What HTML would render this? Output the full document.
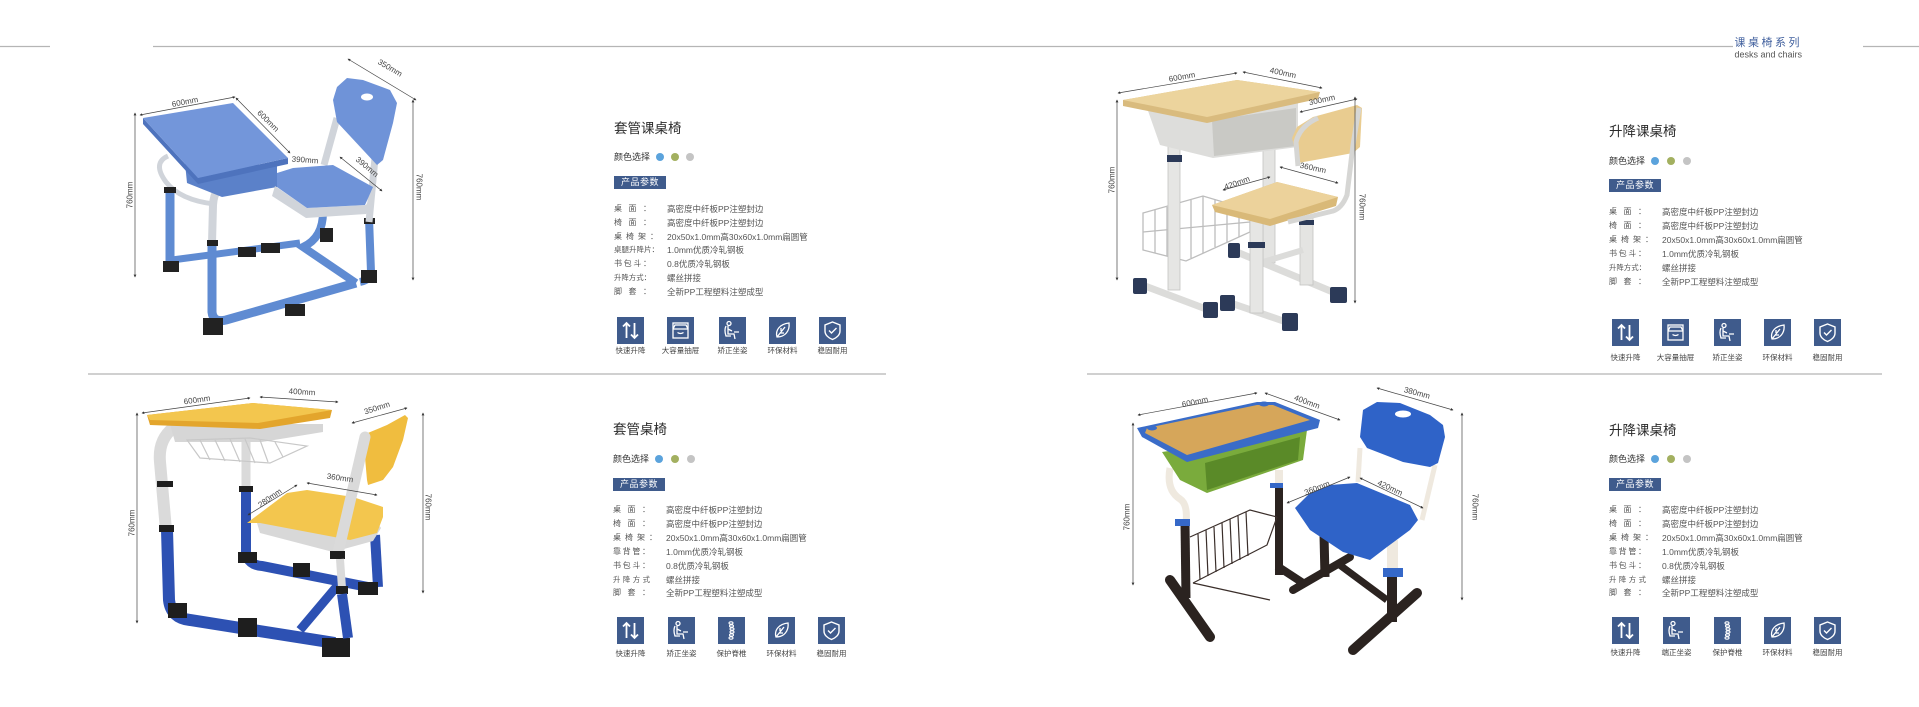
<!DOCTYPE html>
<html><head><meta charset="utf-8">
<style>
*{margin:0;padding:0;box-sizing:border-box}
html,body{width:1919px;height:707px;background:#fff;overflow:hidden;font-family:"Liberation Sans","Noto Sans CJK SC",sans-serif;position:relative}
.a{position:absolute;white-space:nowrap}
.t{font-size:13.5px;line-height:14px;color:#2a2a2a}
.c{font-size:9px;line-height:10px;color:#333}
.dot{position:absolute;width:8px;height:8px;border-radius:50%}
.b1{background:#5ba3dc}.b2{background:#a3b060}.b3{background:#c4c4c4}
.box{position:absolute;background:#3f5b8c;color:#fff;font-size:9px;line-height:13px;text-align:center;height:13px;width:52px;letter-spacing:0.5px}
.r{position:absolute;height:14px;line-height:14px;font-size:8.5px;color:#555;white-space:nowrap}
.l{position:absolute;left:0;top:0;font-size:8px;text-align:justify;text-align-last:justify;width:37px}
.v{position:absolute;left:53px;top:0}
.ic{position:absolute;width:27px;height:27px;background:#3f5b8c}
.ic svg{display:block}
.il{position:absolute;font-size:7.5px;line-height:9px;color:#444;text-align:center;width:50px;white-space:nowrap}
svg text.d{font-family:"Liberation Sans",sans-serif;font-size:8px;fill:#444;text-anchor:middle;dominant-baseline:central}
</style></head><body>

<svg class="a" style="left:0;top:0" width="1919" height="707" viewBox="0 0 1919 707">
<defs><marker id="m" viewBox="0 0 6 6" refX="5" refY="3" markerWidth="4" markerHeight="4" orient="auto-start-reverse"><path d="M0 0L6 3 0 6z" fill="#333"/></marker></defs>
<!-- page lines -->
<g stroke="#b5b5b5" stroke-width="1.2">
<line x1="0" y1="46.5" x2="50" y2="46.5"/>
<line x1="153" y1="46.5" x2="1733" y2="46.5"/>
<line x1="1863" y1="46.5" x2="1919" y2="46.5"/>
<line x1="88" y1="374" x2="886" y2="374"/>
<line x1="1087" y1="374" x2="1882" y2="374"/>
</g>
<text x="1802" y="43" style="font-family:'Liberation Sans','Noto Sans CJK SC',sans-serif;font-size:11px;fill:#41609e;letter-spacing:2.5px;text-anchor:end;dominant-baseline:central">课桌椅系列</text>
<text x="1802" y="54.5" style="font-family:'Liberation Sans',sans-serif;font-size:9px;fill:#555;text-anchor:end;dominant-baseline:central">desks and chairs</text>

<!-- ===== PRODUCT 1 ===== -->
<g>
<line x1="170" y1="190" x2="170" y2="266" stroke="#5f8bd2" stroke-width="9"/>
<path d="M172 260 L300 243" stroke="#5f8bd2" stroke-width="7" fill="none"/>
<path d="M323 212 Q323 238 303 247 L356 283" stroke="#5f8bd2" stroke-width="8" fill="none"/>
<path d="M369 218 L371 272 Q370 280 360 282" stroke="#5f8bd2" stroke-width="8" fill="none"/>
<path d="M212 240 L212 312 Q213 323 226 320 L356 283" stroke="#5f8bd2" stroke-width="9" fill="none"/>
<path d="M231 178 Q214 186 213 205 L212 243" stroke="#d0d4da" stroke-width="8" fill="none"/>
<path d="M168 156 Q152 163 166 182 Q180 200 214 204" stroke="#d0d4da" stroke-width="5" fill="none"/>
<g fill="#222">
<rect x="164" y="187" width="12" height="6"/>
<rect x="207" y="240" width="11" height="6"/>
<rect x="163" y="261" width="16" height="11"/>
<rect x="203" y="318" width="20" height="17"/>
<rect x="238" y="247" width="18" height="10"/>
<rect x="261" y="243" width="19" height="10"/>
<rect x="285" y="304" width="20" height="12"/>
<rect x="320" y="228" width="13" height="14"/>
<rect x="361" y="270" width="16" height="13"/>
<rect x="364" y="218" width="11" height="6"/>
</g>
<polygon points="185,163 277,165 277,187 222,197 187,183" fill="#5b81c9"/>
<polygon points="143,118 198,178 288,158 288,164 198,184 143,124" fill="#4e73bd"/>
<polygon points="143,118 233,103 288,158 198,178" fill="#7396da"/>
<line x1="337" y1="118" x2="324" y2="165" stroke="#d0d4da" stroke-width="7"/>
<line x1="375" y1="158" x2="369" y2="222" stroke="#d0d4da" stroke-width="7"/>
<polygon points="275,186 307,208 366,205 374,190 374,200 366,214 306,218 272,196" fill="#d0d4da"/>
<polygon points="277,173 293,168 333,165 373,187 365,205 307,208 277,187" fill="#6f93d8"/>
<polygon points="337,87 347,78 363,80 390,90 397,103 393,123 383,160 377,165 337,122 333,100" fill="#6f93d8"/>
<ellipse cx="367" cy="97" rx="6" ry="3.5" fill="#fff"/>
<g stroke="#444" stroke-width="0.7" fill="none" marker-start="url(#m)" marker-end="url(#m)">
<line x1="140" y1="115" x2="235" y2="97"/>
<line x1="236" y1="98" x2="290" y2="153"/>
<line x1="348" y1="59" x2="416" y2="100"/>
<line x1="340" y1="157" x2="382" y2="191"/>
<line x1="135" y1="113" x2="135" y2="277"/>
<line x1="413" y1="100" x2="413" y2="280"/>
</g>
<text class="d" transform="translate(185,102) rotate(-11)">600mm</text>
<text class="d" transform="translate(268,121) rotate(45)">600mm</text>
<text class="d" transform="translate(305,160) rotate(4)">390mm</text>
<text class="d" transform="translate(390,68) rotate(30)">350mm</text>
<text class="d" transform="translate(367,167) rotate(40)">390mm</text>
<text class="d" transform="translate(130,195) rotate(-90)">760mm</text>
<text class="d" transform="translate(419,187) rotate(90)">760mm</text>
</g>

<!-- ===== PRODUCT 2 ===== -->
<g>
<rect x="1263" y="145" width="12" height="118" fill="#e4e4e2" stroke="#c4c4c2" stroke-width="0.8"/>
<g stroke="#bdbdbd" stroke-width="1.3" fill="none">
<polygon points="1143,213 1203,196 1250,210 1250,232 1186,261 1143,250"/>
<line x1="1155" y1="210" x2="1155" y2="253"/><line x1="1167" y1="207" x2="1167" y2="256"/>
<line x1="1179" y1="203" x2="1179" y2="259"/><line x1="1191" y1="200" x2="1191" y2="258"/>
<line x1="1203" y1="196" x2="1203" y2="253"/><line x1="1215" y1="200" x2="1215" y2="247"/>
<line x1="1227" y1="203" x2="1227" y2="242"/><line x1="1239" y1="207" x2="1239" y2="237"/>
<line x1="1143" y1="232" x2="1250" y2="222"/>
</g>
<rect x="1168" y="130" width="12" height="160" fill="#e6e6e4" stroke="#c4c4c2" stroke-width="0.8"/>
<line x1="1137" y1="283" x2="1214" y2="312" stroke="#dcdcda" stroke-width="7"/>
<rect x="1167" y="155" width="15" height="7" fill="#2c3a58"/>
<polygon points="1147,108 1298,97 1298,147 1213,158 1160,145" fill="#dddddb"/>
<polygon points="1212,120 1296,108 1296,146 1214,156" fill="#c9c9c5"/>
<polygon points="1123,100 1237,80 1320,92 1318,99 1207,123 1123,106" fill="#d9bb7e"/>
<polygon points="1123,100 1237,80 1320,92 1207,117" fill="#ecd49d"/>
<!-- chair -->
<line x1="1232" y1="250" x2="1340" y2="295" stroke="#dcdcda" stroke-width="7"/>
<line x1="1222" y1="300" x2="1295" y2="325" stroke="#dcdcda" stroke-width="7"/>
<rect x="1300" y="217" width="13" height="68" fill="#e4e4e2" stroke="#c4c4c2" stroke-width="0.8"/>
<line x1="1263" y1="262" x2="1303" y2="250" stroke="#dcdcda" stroke-width="6"/>
<rect x="1250" y="207" width="13" height="106" fill="#e6e6e4" stroke="#c4c4c2" stroke-width="0.8"/>
<rect x="1248" y="242" width="17" height="6" fill="#2c3a58"/>
<rect x="1299" y="220" width="15" height="5" fill="#2c3a58"/>
<g fill="#2c3a58">
<rect x="1133" y="278" width="14" height="16" rx="2"/>
<rect x="1203" y="302" width="15" height="16" rx="2"/>
<rect x="1220" y="295" width="15" height="16" rx="2"/>
<rect x="1282" y="313" width="16" height="18" rx="2"/>
<rect x="1228" y="243" width="12" height="15" rx="2"/>
<rect x="1330" y="287" width="17" height="16" rx="2"/>
</g>
<polygon points="1212,205 1277,182 1338,197 1336,206 1270,226 1215,212" fill="#d9b978"/>
<polygon points="1212,205 1277,182 1338,197 1270,219" fill="#ecd29b"/>
<polygon points="1292,138 1297,127 1313,117 1357,105 1362,108 1360,147 1353,153 1315,160 1298,163" fill="#e9cc90"/>
<path d="M1359 108 L1353 145 L1347 195 Q1342 208 1333 211 L1288 222" stroke="#d6d6d4" stroke-width="5" fill="none"/>
<path d="M1298 166 L1296 142 Q1300 126 1318 118" stroke="#d6d6d4" stroke-width="5" fill="none"/>
<g stroke="#444" stroke-width="0.7" fill="none" marker-start="url(#m)" marker-end="url(#m)">
<line x1="1118" y1="93" x2="1237" y2="73"/>
<line x1="1243" y1="72" x2="1322" y2="88"/>
<line x1="1300" y1="112" x2="1357" y2="99"/>
<line x1="1117" y1="100" x2="1117" y2="280"/>
<line x1="1355" y1="97" x2="1355" y2="303"/>
<line x1="1280" y1="167" x2="1338" y2="183"/>
<line x1="1223" y1="190" x2="1270" y2="177"/>
</g>
<text class="d" transform="translate(1182,77) rotate(-10)">600mm</text>
<text class="d" transform="translate(1283,73) rotate(12)">400mm</text>
<text class="d" transform="translate(1322,100) rotate(-12)">300mm</text>
<text class="d" transform="translate(1112,180) rotate(-90)">760mm</text>
<text class="d" transform="translate(1362,207) rotate(90)">760mm</text>
<text class="d" transform="translate(1313,168) rotate(12)">360mm</text>
<text class="d" transform="translate(1237,183) rotate(-20)">420mm</text>
</g>

<!-- ===== PRODUCT 3 ===== -->
<g>
<path d="M246 490 L246 553 Q248 565 262 566 L373 588" stroke="#2d51b3" stroke-width="10" fill="none"/>
<line x1="246" y1="440" x2="246" y2="490" stroke="#dadada" stroke-width="9"/>
<path d="M375 535 L378 587" stroke="#2d51b3" stroke-width="10"/>
<line x1="300" y1="630" x2="338" y2="585" stroke="#2d51b3" stroke-width="9"/>
<path d="M173 428 Q158 440 160 462 L166 530" stroke="#dadada" stroke-width="12" fill="none"/>
<path d="M167 530 L169 600 Q171 618 190 620 L335 643" stroke="#2d51b3" stroke-width="12" fill="none"/>
<g fill="#1e1e1e">
<rect x="157" y="481" width="16" height="6"/>
<rect x="159" y="525" width="15" height="7"/>
<rect x="239" y="486" width="14" height="6"/>
<rect x="168" y="603" width="19" height="15"/>
<rect x="238" y="552" width="19" height="11"/>
<rect x="238" y="618" width="19" height="19"/>
<rect x="293" y="563" width="17" height="14"/>
<rect x="322" y="638" width="28" height="19"/>
<rect x="358" y="582" width="20" height="13"/>
</g>
<polygon points="170,424 323,424 323,432 262,442 175,442" fill="#d6d6d6"/>
<g stroke="#c8c8c8" stroke-width="1.2" fill="none">
<polygon points="187,440 250,438 307,446 270,463 200,458"/>
<line x1="200" y1="440" x2="210" y2="460"/><line x1="215" y1="440" x2="225" y2="461"/>
<line x1="230" y1="439" x2="240" y2="462"/><line x1="245" y1="439" x2="255" y2="463"/>
<line x1="260" y1="440" x2="268" y2="462"/><line x1="275" y1="442" x2="283" y2="457"/>
</g>
<polygon points="147,415 253,403 332,410 330,418 260,429 150,425" fill="#e3a52c"/>
<polygon points="147,415 253,403 332,410 258,423 150,420" fill="#f3c64e"/>
<!-- chair -->
<polygon points="363,435 387,425 405,415 408,418 403,440 393,467 383,480 368,485 367,480" fill="#f0bd3f"/>
<polygon points="257,523 260,533 333,552 373,541 381,528 375,520" fill="#d8d8d8"/>
<polygon points="247,523 287,493 307,490 353,497 383,507 383,517 377,533 350,540 260,523" fill="#f3c64e"/>
<path d="M365 437 L338 553" stroke="#dadada" stroke-width="11" fill="none" stroke-linecap="round"/>
<rect x="330" y="551" width="15" height="8" fill="#1e1e1e"/>
<line x1="340" y1="559" x2="342" y2="588" stroke="#dadada" stroke-width="8"/>
<rect x="336" y="586" width="12" height="8" fill="#1e1e1e"/>
<path d="M342 594 L348 638" stroke="#2d51b3" stroke-width="10"/>
<g stroke="#444" stroke-width="0.7" fill="none" marker-start="url(#m)" marker-end="url(#m)">
<line x1="142" y1="413" x2="250" y2="398"/>
<line x1="260" y1="397" x2="338" y2="402"/>
<line x1="352" y1="423" x2="407" y2="408"/>
<line x1="137" y1="413" x2="137" y2="623"/>
<line x1="423" y1="413" x2="423" y2="593"/>
<line x1="307" y1="483" x2="377" y2="495"/>
<line x1="248" y1="515" x2="297" y2="485"/>
</g>
<text class="d" transform="translate(197,400) rotate(-8)">600mm</text>
<text class="d" transform="translate(302,392) rotate(3)">400mm</text>
<text class="d" transform="translate(377,408) rotate(-18)">350mm</text>
<text class="d" transform="translate(132,523) rotate(-90)">760mm</text>
<text class="d" transform="translate(428,507) rotate(90)">760mm</text>
<text class="d" transform="translate(340,478) rotate(8)">360mm</text>
<text class="d" transform="translate(270,498) rotate(-35)">280mm</text>
</g>

<!-- ===== PRODUCT 4 ===== -->
<g>
<line x1="1279" y1="486" x2="1279" y2="575" stroke="#2b2320" stroke-width="8"/>
<line x1="1277" y1="566" x2="1303" y2="583" stroke="#2b2320" stroke-width="8"/>
<rect x="1275" y="470" width="8" height="15" fill="#efe9df"/>
<rect x="1270" y="483" width="13" height="5" fill="#3568c8"/>
<g stroke="#3a2e2a" stroke-width="1.2" fill="none">
<polyline points="1190,537 1250,510 1277,517"/>
<polyline points="1193,583 1267,545 1277,517"/>
<line x1="1198" y1="534" x2="1200" y2="580"/><line x1="1206" y1="530" x2="1208" y2="576"/>
<line x1="1214" y1="527" x2="1216" y2="572"/><line x1="1222" y1="523" x2="1224" y2="568"/>
<line x1="1230" y1="519" x2="1232" y2="564"/><line x1="1238" y1="516" x2="1240" y2="560"/>
<line x1="1246" y1="512" x2="1248" y2="556"/>
<line x1="1193" y1="583" x2="1270" y2="600"/>
</g>
<line x1="1185" y1="523" x2="1186" y2="598" stroke="#2b2320" stroke-width="9"/>
<line x1="1170" y1="580" x2="1210" y2="637" stroke="#2b2320" stroke-width="10" stroke-linecap="round"/>
<path d="M1170 468 Q1166 490 1180 499 Q1188 504 1186 523" stroke="#efe9df" stroke-width="7" fill="none"/>
<rect x="1175" y="519" width="15" height="7" fill="#3568c8"/>
<polygon points="1162,452 1307,430 1303,460 1207,493 1180,480" fill="#7aab3c"/>
<polygon points="1205,463 1300,437 1298,460 1207,490" fill="#5a8a28"/>
<polygon points="1137,428 1257,402 1275,402 1320,420 1318,428 1187,462 1142,437" fill="#3a6cc8"/>
<polygon points="1147,428 1257,405 1273,405 1310,420 1187,455 1145,433" fill="#d6a65a"/>
<ellipse cx="1152" cy="428" rx="5" ry="2.5" fill="#3a6cc8"/>
<ellipse cx="1264" cy="404" rx="5" ry="2.5" fill="#3a6cc8"/>
<!-- chair -->
<line x1="1293" y1="590" x2="1350" y2="557" stroke="#2b2320" stroke-width="8" stroke-linecap="round"/>
<line x1="1324" y1="535" x2="1325" y2="577" stroke="#2b2320" stroke-width="9"/>
<line x1="1337" y1="563" x2="1387" y2="600" stroke="#2b2320" stroke-width="7"/>
<line x1="1392" y1="577" x2="1392" y2="622" stroke="#2b2320" stroke-width="10"/>
<line x1="1353" y1="650" x2="1417" y2="593" stroke="#2b2320" stroke-width="10" stroke-linecap="round"/>
<rect x="1387" y="540" width="11" height="30" fill="#efe9df"/>
<rect x="1383" y="568" width="20" height="9" fill="#3568c8"/>
<line x1="1360" y1="448" x2="1358" y2="482" stroke="#efe9df" stroke-width="5"/>
<line x1="1435" y1="465" x2="1422" y2="520" stroke="#efe9df" stroke-width="5"/>
<polygon points="1363,410 1377,402 1400,403 1430,415 1443,425 1445,437 1438,463 1430,467 1403,462 1367,448 1360,437" fill="#2f63c8"/>
<ellipse cx="1403" cy="414" rx="8" ry="3.5" fill="#fff"/>
<polygon points="1295,508 1310,493 1330,485 1357,483 1410,505 1418,520 1410,530 1387,547 1370,560 1343,552 1310,530" fill="#2f63c8"/>
<g stroke="#444" stroke-width="0.7" fill="none" marker-start="url(#m)" marker-end="url(#m)">
<line x1="1138" y1="415" x2="1257" y2="393"/>
<line x1="1265" y1="393" x2="1340" y2="420"/>
<line x1="1377" y1="388" x2="1453" y2="410"/>
<line x1="1133" y1="423" x2="1133" y2="585"/>
<line x1="1462" y1="413" x2="1462" y2="600"/>
<line x1="1287" y1="503" x2="1350" y2="477"/>
<line x1="1360" y1="478" x2="1423" y2="508"/>
</g>
<text class="d" transform="translate(1195,402) rotate(-12)">600mm</text>
<text class="d" transform="translate(1307,402) rotate(20)">400mm</text>
<text class="d" transform="translate(1417,393) rotate(15)">380mm</text>
<text class="d" transform="translate(1127,517) rotate(-90)">760mm</text>
<text class="d" transform="translate(1475,507) rotate(90)">760mm</text>
<text class="d" transform="translate(1317,488) rotate(-22)">360mm</text>
<text class="d" transform="translate(1390,488) rotate(25)">420mm</text>
</g>
</svg>

<!-- ===== TEXT BLOCK 1 ===== -->
<div class="a t" style="left:614px;top:122px">套管课桌椅</div>
<div class="a c" style="left:614px;top:152px">颜色选择</div>
<div class="dot b1" style="left:656px;top:153px"></div><div class="dot b2" style="left:671px;top:153px"></div><div class="dot b3" style="left:686px;top:153px"></div>
<div class="box" style="left:614px;top:176px">产品参数</div>
<div class="r" style="left:614px;top:202px"><span class="l">桌面：</span><span class="v">高密度中纤板PP注塑封边</span></div>
<div class="r" style="left:614px;top:215.8px"><span class="l">椅面：</span><span class="v">高密度中纤板PP注塑封边</span></div>
<div class="r" style="left:614px;top:229.6px"><span class="l" style="width:44px">桌椅架：</span><span class="v">20x50x1.0mm高30x60x1.0mm扁圆管</span></div>
<div class="r" style="left:614px;top:243.4px"><span class="l" style="width:45px;font-size:7.5px">桌腿升降片：</span><span class="v">1.0mm优质冷轧钢板</span></div>
<div class="r" style="left:614px;top:257.2px"><span class="l">书包斗：</span><span class="v">0.8优质冷轧钢板</span></div>
<div class="r" style="left:614px;top:271px"><span class="l" style="font-size:7.4px">升降方式：</span><span class="v">螺丝拼接</span></div>
<div class="r" style="left:614px;top:284.8px"><span class="l">脚套：</span><span class="v">全新PP工程塑料注塑成型</span></div>

<!-- ===== TEXT BLOCK 2 ===== -->
<div class="a t" style="left:1609px;top:125px">升降课桌椅</div>
<div class="a c" style="left:1609px;top:156px">颜色选择</div>
<div class="dot b1" style="left:1651px;top:157px"></div><div class="dot b2" style="left:1667px;top:157px"></div><div class="dot b3" style="left:1683px;top:157px"></div>
<div class="box" style="left:1609px;top:179px">产品参数</div>
<div class="r" style="left:1609px;top:205px"><span class="l">桌面：</span><span class="v">高密度中纤板PP注塑封边</span></div>
<div class="r" style="left:1609px;top:218.9px"><span class="l">椅面：</span><span class="v">高密度中纤板PP注塑封边</span></div>
<div class="r" style="left:1609px;top:232.8px"><span class="l" style="width:44px">桌椅架：</span><span class="v">20x50x1.0mm高30x60x1.0mm扁圆管</span></div>
<div class="r" style="left:1609px;top:246.7px"><span class="l">书包斗：</span><span class="v">1.0mm优质冷轧钢板</span></div>
<div class="r" style="left:1609px;top:260.6px"><span class="l" style="font-size:7.4px">升降方式：</span><span class="v">螺丝拼接</span></div>
<div class="r" style="left:1609px;top:274.5px"><span class="l">脚套：</span><span class="v">全新PP工程塑料注塑成型</span></div>

<!-- ===== TEXT BLOCK 3 ===== -->
<div class="a t" style="left:613px;top:422.5px">套管桌椅</div>
<div class="a c" style="left:613px;top:454px">颜色选择</div>
<div class="dot b1" style="left:655px;top:455px"></div><div class="dot b2" style="left:671px;top:455px"></div><div class="dot b3" style="left:687px;top:455px"></div>
<div class="box" style="left:613px;top:478px">产品参数</div>
<div class="r" style="left:613px;top:503px"><span class="l">桌面：</span><span class="v">高密度中纤板PP注塑封边</span></div>
<div class="r" style="left:613px;top:516.9px"><span class="l">椅面：</span><span class="v">高密度中纤板PP注塑封边</span></div>
<div class="r" style="left:613px;top:530.8px"><span class="l" style="width:44px">桌椅架：</span><span class="v">20x50x1.0mm高30x60x1.0mm扁圆管</span></div>
<div class="r" style="left:613px;top:544.7px"><span class="l">靠背管：</span><span class="v">1.0mm优质冷轧钢板</span></div>
<div class="r" style="left:613px;top:558.6px"><span class="l">书包斗：</span><span class="v">0.8优质冷轧钢板</span></div>
<div class="r" style="left:613px;top:572.5px"><span class="l" style="font-size:7.4px">升降方式</span><span class="v">螺丝拼接</span></div>
<div class="r" style="left:613px;top:586.4px"><span class="l">脚套：</span><span class="v">全新PP工程塑料注塑成型</span></div>

<!-- ===== TEXT BLOCK 4 ===== -->
<div class="a t" style="left:1609px;top:423.5px">升降课桌椅</div>
<div class="a c" style="left:1609px;top:454px">颜色选择</div>
<div class="dot b1" style="left:1651px;top:455px"></div><div class="dot b2" style="left:1667px;top:455px"></div><div class="dot b3" style="left:1683px;top:455px"></div>
<div class="box" style="left:1609px;top:478px">产品参数</div>
<div class="r" style="left:1609px;top:503px"><span class="l">桌面：</span><span class="v">高密度中纤板PP注塑封边</span></div>
<div class="r" style="left:1609px;top:516.9px"><span class="l">椅面：</span><span class="v">高密度中纤板PP注塑封边</span></div>
<div class="r" style="left:1609px;top:530.8px"><span class="l" style="width:44px">桌椅架：</span><span class="v">20x50x1.0mm高30x60x1.0mm扁圆管</span></div>
<div class="r" style="left:1609px;top:544.7px"><span class="l">靠背管：</span><span class="v">1.0mm优质冷轧钢板</span></div>
<div class="r" style="left:1609px;top:558.6px"><span class="l">书包斗：</span><span class="v">0.8优质冷轧钢板</span></div>
<div class="r" style="left:1609px;top:572.5px"><span class="l" style="font-size:7.4px">升降方式</span><span class="v">螺丝拼接</span></div>
<div class="r" style="left:1609px;top:586.4px"><span class="l">脚套：</span><span class="v">全新PP工程塑料注塑成型</span></div>

<!-- ===== ICONS ===== -->
<!-- block 1 -->
<div class="ic" style="left:617px;top:317px"><svg width="27" height="27" viewBox="0 0 27 27"><path d="M9.5 21V6M6 9.5L9.5 6 13 9.5M17.5 6v15M14 17.5l3.5 3.5 3.5-3.5" stroke="#fff" stroke-width="1.8" fill="none"/></svg></div>
<div class="ic" style="left:667px;top:317px"><svg width="27" height="27" viewBox="0 0 27 27"><g stroke="#fff" stroke-width="1.3" fill="none"><rect x="6" y="6" width="15" height="15"/><path d="M6 12h15M6 12l2-4h11l2 4M10.5 15.5q3 2 6 0"/></g></svg></div>
<div class="ic" style="left:719px;top:317px"><svg width="27" height="27" viewBox="0 0 27 27"><g stroke="#fff" stroke-width="1.3" fill="none"><circle cx="10" cy="6.5" r="2"/><path d="M9 9v8h6l1 5M9 12l4 2M15 15h5M7 9q-2 4 0 10h5"/></g></svg></div>
<div class="ic" style="left:769px;top:317px"><svg width="27" height="27" viewBox="0 0 27 27"><g stroke="#fff" stroke-width="1.3" fill="none"><path d="M8 20C6 13 11 7 20 6 21 14 16 20 8 20zM8 20L16 10M11 16h4M12 14V11"/></g></svg></div>
<div class="ic" style="left:819px;top:317px"><svg width="27" height="27" viewBox="0 0 27 27"><g stroke="#fff" stroke-width="1.4" fill="none"><path d="M13.5 5L21 8v6c0 4-3.5 7-7.5 8.5C9.5 21 6 18 6 14V8z"/><path d="M10 13.5l2.5 2.5 5-5"/></g></svg></div>
<div class="il" style="left:605.5px;top:346px">快速升降</div>
<div class="il" style="left:655.5px;top:346px">大容量抽屉</div>
<div class="il" style="left:707.5px;top:346px">矫正坐姿</div>
<div class="il" style="left:757.5px;top:346px">环保材料</div>
<div class="il" style="left:807.5px;top:346px">稳固耐用</div>

<!-- block 2 -->
<div class="ic" style="left:1612px;top:319px"><svg width="27" height="27" viewBox="0 0 27 27"><path d="M9.5 21V6M6 9.5L9.5 6 13 9.5M17.5 6v15M14 17.5l3.5 3.5 3.5-3.5" stroke="#fff" stroke-width="1.8" fill="none"/></svg></div>
<div class="ic" style="left:1662px;top:319px"><svg width="27" height="27" viewBox="0 0 27 27"><g stroke="#fff" stroke-width="1.3" fill="none"><rect x="6" y="6" width="15" height="15"/><path d="M6 12h15M6 12l2-4h11l2 4M10.5 15.5q3 2 6 0"/></g></svg></div>
<div class="ic" style="left:1714px;top:319px"><svg width="27" height="27" viewBox="0 0 27 27"><g stroke="#fff" stroke-width="1.3" fill="none"><circle cx="10" cy="6.5" r="2"/><path d="M9 9v8h6l1 5M9 12l4 2M15 15h5M7 9q-2 4 0 10h5"/></g></svg></div>
<div class="ic" style="left:1764px;top:319px"><svg width="27" height="27" viewBox="0 0 27 27"><g stroke="#fff" stroke-width="1.3" fill="none"><path d="M8 20C6 13 11 7 20 6 21 14 16 20 8 20zM8 20L16 10M11 16h4M12 14V11"/></g></svg></div>
<div class="ic" style="left:1814px;top:319px"><svg width="27" height="27" viewBox="0 0 27 27"><g stroke="#fff" stroke-width="1.4" fill="none"><path d="M13.5 5L21 8v6c0 4-3.5 7-7.5 8.5C9.5 21 6 18 6 14V8z"/><path d="M10 13.5l2.5 2.5 5-5"/></g></svg></div>
<div class="il" style="left:1600.5px;top:352.5px">快速升降</div>
<div class="il" style="left:1650.5px;top:352.5px">大容量抽屉</div>
<div class="il" style="left:1702.5px;top:352.5px">矫正坐姿</div>
<div class="il" style="left:1752.5px;top:352.5px">环保材料</div>
<div class="il" style="left:1802.5px;top:352.5px">稳固耐用</div>

<!-- block 3 -->
<div class="ic" style="left:617px;top:617px"><svg width="27" height="27" viewBox="0 0 27 27"><path d="M9.5 21V6M6 9.5L9.5 6 13 9.5M17.5 6v15M14 17.5l3.5 3.5 3.5-3.5" stroke="#fff" stroke-width="1.8" fill="none"/></svg></div>
<div class="ic" style="left:668px;top:617px"><svg width="27" height="27" viewBox="0 0 27 27"><g stroke="#fff" stroke-width="1.3" fill="none"><circle cx="10" cy="6.5" r="2"/><path d="M9 9v8h6l1 5M9 12l4 2M15 15h5M7 9q-2 4 0 10h5"/></g></svg></div>
<div class="ic" style="left:718px;top:617px"><svg width="27" height="27" viewBox="0 0 27 27"><g stroke="#fff" stroke-width="1.1" fill="none"><ellipse cx="13" cy="6" rx="2" ry="1.2"/><ellipse cx="13.5" cy="9" rx="2" ry="1.2"/><ellipse cx="14" cy="12" rx="2" ry="1.2"/><ellipse cx="14" cy="15" rx="2" ry="1.2"/><ellipse cx="13.5" cy="18" rx="2" ry="1.2"/><ellipse cx="13" cy="21" rx="2" ry="1.2"/></g></svg></div>
<div class="ic" style="left:768px;top:617px"><svg width="27" height="27" viewBox="0 0 27 27"><g stroke="#fff" stroke-width="1.3" fill="none"><path d="M8 20C6 13 11 7 20 6 21 14 16 20 8 20zM8 20L16 10M11 16h4M12 14V11"/></g></svg></div>
<div class="ic" style="left:818px;top:617px"><svg width="27" height="27" viewBox="0 0 27 27"><g stroke="#fff" stroke-width="1.4" fill="none"><path d="M13.5 5L21 8v6c0 4-3.5 7-7.5 8.5C9.5 21 6 18 6 14V8z"/><path d="M10 13.5l2.5 2.5 5-5"/></g></svg></div>
<div class="il" style="left:605.5px;top:648.5px">快速升降</div>
<div class="il" style="left:656.5px;top:648.5px">矫正坐姿</div>
<div class="il" style="left:706.5px;top:648.5px">保护脊椎</div>
<div class="il" style="left:756.5px;top:648.5px">环保材料</div>
<div class="il" style="left:806.5px;top:648.5px">稳固耐用</div>

<!-- block 4 -->
<div class="ic" style="left:1612px;top:617px"><svg width="27" height="27" viewBox="0 0 27 27"><path d="M9.5 21V6M6 9.5L9.5 6 13 9.5M17.5 6v15M14 17.5l3.5 3.5 3.5-3.5" stroke="#fff" stroke-width="1.8" fill="none"/></svg></div>
<div class="ic" style="left:1663px;top:617px"><svg width="27" height="27" viewBox="0 0 27 27"><g stroke="#fff" stroke-width="1.3" fill="none"><circle cx="10" cy="6.5" r="2"/><path d="M9 9v8h6l1 5M9 12l4 2M15 15h5M7 9q-2 4 0 10h5"/></g></svg></div>
<div class="ic" style="left:1714px;top:617px"><svg width="27" height="27" viewBox="0 0 27 27"><g stroke="#fff" stroke-width="1.1" fill="none"><ellipse cx="13" cy="6" rx="2" ry="1.2"/><ellipse cx="13.5" cy="9" rx="2" ry="1.2"/><ellipse cx="14" cy="12" rx="2" ry="1.2"/><ellipse cx="14" cy="15" rx="2" ry="1.2"/><ellipse cx="13.5" cy="18" rx="2" ry="1.2"/><ellipse cx="13" cy="21" rx="2" ry="1.2"/></g></svg></div>
<div class="ic" style="left:1764px;top:617px"><svg width="27" height="27" viewBox="0 0 27 27"><g stroke="#fff" stroke-width="1.3" fill="none"><path d="M8 20C6 13 11 7 20 6 21 14 16 20 8 20zM8 20L16 10M11 16h4M12 14V11"/></g></svg></div>
<div class="ic" style="left:1814px;top:617px"><svg width="27" height="27" viewBox="0 0 27 27"><g stroke="#fff" stroke-width="1.4" fill="none"><path d="M13.5 5L21 8v6c0 4-3.5 7-7.5 8.5C9.5 21 6 18 6 14V8z"/><path d="M10 13.5l2.5 2.5 5-5"/></g></svg></div>
<div class="il" style="left:1600.5px;top:648px">快速升降</div>
<div class="il" style="left:1651.5px;top:648px">端正坐姿</div>
<div class="il" style="left:1702.5px;top:648px">保护脊椎</div>
<div class="il" style="left:1752.5px;top:648px">环保材料</div>
<div class="il" style="left:1802.5px;top:648px">稳固耐用</div>

</body></html>
